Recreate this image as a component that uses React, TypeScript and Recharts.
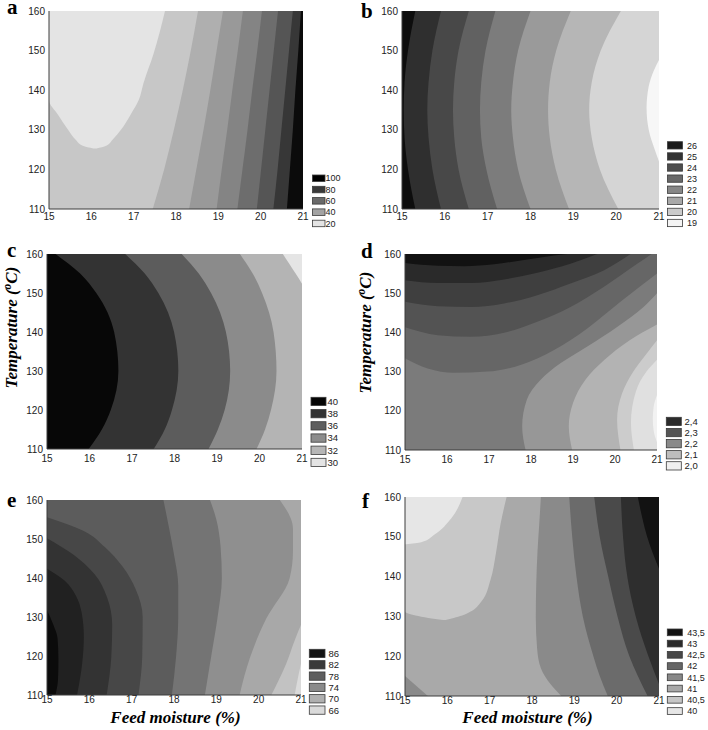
import React from 'react';
import { ComposedChart, Area, XAxis, YAxis } from 'recharts';

// ---------- axes ----------
const xTicks = [15, 16, 17, 18, 19, 20, 21];
const yTicks = [110, 120, 130, 140, 150, 160];
const xMinorTicks = [15.75, 16.5, 17.25, 18, 18.75, 19.5, 20.25];
const yMinorTicks = [116.25, 122.5, 128.75, 135, 141.25, 147.5, 153.75];
const axisData = [{ x: 15 }, { x: 21 }];

// ---------- panel a : contour boundaries [temperature, moisture] ----------
const aB1 = [[110, 17.45], [120, 17.72], [130, 17.95], [140, 18.16], [150, 18.35], [160, 18.52]];
const aB2 = [[110, 18.31], [120, 18.48], [130, 18.65], [140, 18.81], [150, 18.96], [160, 19.11]];
const aB3 = [[110, 18.96], [120, 19.08], [130, 19.21], [140, 19.33], [150, 19.46], [160, 19.58]];
const aB4 = [[110, 19.45], [120, 19.57], [130, 19.69], [140, 19.8], [150, 19.92], [160, 20.03]];
const aB5 = [[110, 19.91], [120, 20.01], [130, 20.11], [140, 20.21], [150, 20.31], [160, 20.41]];
const aB6 = [[110, 20.3], [120, 20.4], [130, 20.49], [140, 20.58], [150, 20.67], [160, 20.76]];
const aB7 = [[110, 20.62], [120, 20.69], [130, 20.76], [140, 20.82], [150, 20.89], [160, 20.95]];
const aU = [[125.3, 16.05, 16.12], [126, 15.8, 16.35], [127.5, 15.63, 16.5], [130, 15.45, 16.7], [133.7, 15.22, 16.92], [137.5, 15.0, 17.12], [141.7, 15, 17.23], [149.2, 15, 17.47], [160, 15, 17.74]];
const aColors = ['#0b0b0b', '#373737', '#555555', '#6d6d6d', '#848484', '#999999', '#afafaf', '#c7c7c7', '#e4e4e4'];

// ---------- panel b ----------
const bB1 = [[110, 15.31], [120, 15.14], [128, 15.06], [135, 15.04], [142, 15.06], [150, 15.14], [160, 15.31]];
const bB2 = [[110, 15.91], [120, 15.71], [128, 15.62], [135, 15.59], [142, 15.62], [150, 15.71], [160, 15.91]];
const bB3 = [[110, 16.56], [120, 16.32], [128, 16.22], [135, 16.19], [142, 16.22], [150, 16.32], [160, 16.56]];
const bB4 = [[110, 17.22], [120, 16.97], [128, 16.85], [135, 16.82], [142, 16.85], [150, 16.95], [160, 17.18]];
const bB5 = [[110, 18.0], [120, 17.71], [128, 17.59], [135, 17.55], [142, 17.59], [150, 17.71], [160, 18.0]];
const bB6 = [[110, 18.9], [120, 18.59], [128, 18.45], [135, 18.41], [142, 18.45], [150, 18.6], [160, 18.94]];
const bB7 = [[110, 20.05], [120, 19.62], [128, 19.43], [135, 19.37], [142, 19.43], [150, 19.64], [160, 20.11]];
const bW = [[122, 21.0], [125, 20.9], [130, 20.76], [135.5, 20.71], [141, 20.76], [145, 20.88], [147.6, 21.0]];
const bColors = ['#d5d5d5', '#b6b6b6', '#9a9a9a', '#7c7c7c', '#616161', '#484848', '#2f2f2f', '#0d0d0d', '#f7f7f7'];

// ---------- panel c ----------
const cB1 = [[110, 15.98], [115, 16.29], [120, 16.5], [130, 16.68], [140, 16.58], [150, 16.16], [155, 15.78], [160, 15.2]];
const cB2 = [[110, 17.51], [115, 17.77], [120, 17.94], [130, 18.09], [140, 17.99], [150, 17.62], [155, 17.3], [160, 16.84]];
const cB3 = [[110, 18.8], [115, 19.02], [120, 19.18], [130, 19.31], [140, 19.21], [150, 18.86], [155, 18.57], [160, 18.17]];
const cB4 = [[110, 19.93], [115, 20.13], [120, 20.27], [130, 20.4], [140, 20.33], [150, 20.06], [155, 19.84], [160, 19.54]];
const cB5 = [[152.4, 21.0], [155, 20.85], [157.5, 20.7], [160, 20.55]];
const cColors = ['#b4b4b4', '#8b8b8b', '#5c5c5c', '#333333', '#070707', '#e5e5e5'];

// ---------- panel d ----------
const dB1 = [[15, 157.7], [15.78, 157.0], [16.41, 156.9], [17.12, 157.4], [17.91, 158.6], [18.55, 159.6], [18.86, 160]];
const dB2 = [[15, 153.3], [15.78, 152.6], [16.57, 152.6], [17.36, 153.5], [18.15, 155.2], [18.94, 157.5], [19.58, 160]];
const dB3 = [[15, 147.8], [15.78, 146.7], [16.57, 146.5], [17.36, 147.4], [18.15, 149.5], [18.94, 152.5], [19.73, 155.8], [20.37, 160]];
const dB4 = [[15, 141.3], [15.78, 139.3], [16.57, 138.9], [17.36, 139.9], [18.15, 142.7], [18.94, 146.5], [19.73, 151.6], [20.53, 157.5], [20.87, 160]];
const dB5 = [[15, 133.4], [15.54, 130.8], [16.17, 129.7], [16.96, 130.0], [17.75, 131.7], [18.55, 135.5], [19.34, 141.0], [20.13, 147.8], [21, 155]];
const dB6 = [[110, 17.87], [116, 17.79], [122.8, 17.9], [127.9, 18.23], [132.1, 18.7], [136.4, 19.34], [141.4, 20.05], [146.5, 20.68], [150, 21.0]];
const dB7 = [[110, 18.98], [116, 18.9], [122, 19.0], [128, 19.3], [133, 19.75], [138, 20.35], [142, 21.0]];
const dB8 = [[110, 20.13], [117.7, 20.05], [124.5, 20.17], [129.6, 20.41], [134.7, 20.76], [138, 21.0]];
const dB9 = [[110, 20.45], [117, 20.38], [125, 20.5], [130, 20.75], [133, 21.0]];
const dW = [[112, 21.0], [115, 20.92], [118, 20.9], [121, 20.92], [124, 21.0]];
const dColorsLow = ['#7b7b7b', '#979797', '#b3b3b3', '#cccccc', '#e0e0e0', '#f2f2f2'];
const dColorsHigh = ['#666666', '#535353', '#3f3f3f', '#2a2a2a', '#121212'];

// ---------- panel e ----------
const eE1 = [[110, 15.2], [114, 15.26], [119, 15.27], [124.5, 15.25], [128, 15.15], [131.8, 15.0]];
const eE2 = [[110, 15.71], [118, 15.83], [125, 15.87], [131, 15.82], [135.5, 15.68], [139.3, 15.42], [142.4, 15.0]];
const eE3 = [[110, 16.41], [120, 16.52], [128, 16.54], [135, 16.42], [141, 16.12], [146, 15.62], [150.2, 15.0]];
const eE4 = [[110, 17.16], [120, 17.25], [130, 17.26], [137, 17.1], [143, 16.78], [148, 16.36], [152, 15.88], [155.6, 15.0]];
const eE5 = [[110, 17.95], [120, 18.05], [130, 18.1], [138, 18.1], [146, 18.0], [153, 17.88], [160, 17.75]];
const eE6 = [[110, 18.73], [120, 18.88], [130, 19.03], [140, 19.13], [148, 19.1], [155, 19.0], [160, 18.85]];
const eE7 = [[110, 19.55], [119.4, 19.79], [129.6, 20.18], [139.9, 20.73], [146.7, 20.81], [152.7, 20.81], [160, 20.5]];
const eE8 = [[110, 20.3], [118, 20.65], [124, 20.85], [128, 21.0]];
const eE9 = [[110, 20.85], [114, 20.92], [118, 21.0]];
const eColors = ['#a8a8a8', '#8f8f8f', '#747474', '#5c5c5c', '#474747', '#333333', '#212121', '#0b0b0b', '#c2c2c2', '#dadada'];

// ---------- panel f ----------
const fF3 = [[110, 18.69], [112.8, 18.45], [117, 18.21], [122, 18.12], [129.6, 18.09], [138, 18.1], [146.3, 18.13], [153, 18.17], [160, 18.21]];
const fF4 = [[110, 19.79], [115, 19.6], [120, 19.45], [130, 19.2], [140, 19.05], [150, 18.95], [160, 18.88]];
const fF5 = [[110, 20.73], [115, 20.5], [120, 20.3], [130, 20.02], [140, 19.8], [150, 19.6], [160, 19.47]];
const fF6 = [[113, 21.0], [120, 20.75], [130, 20.45], [140, 20.25], [150, 20.15], [160, 20.1]];
const fF7 = [[142, 21.0], [146, 20.85], [150, 20.72], [155, 20.6], [160, 20.5]];
const fTri = [[110, 15, 15.54], [115, 15, 15.0]];
const fR2 = [[129.1, 15.9, 15.96], [129.6, 15.55, 16.15], [130.2, 15.25, 16.35], [131.2, 15.0, 16.55], [133.7, 15, 16.8], [139.2, 15, 17.02], [146, 15, 17.15], [153.4, 15, 17.26], [160, 15, 17.4]];
const fR1 = [[148.1, 15, 15.02], [148.6, 15, 15.38], [150.5, 15, 15.69], [154.6, 15, 16.09], [160, 15, 16.36]];
const fColors = ['#4a4a4a', '#2e2e2e', '#121212', '#6b6b6b', '#8a8a8a', '#a9a9a9', '#8a8a8a', '#c8c8c8', '#e6e6e6'];

// ---------- legends ----------
const aLegLabels = ['100', '80', '60', '40', '20'];
const aLegColors = ['#000000', '#3a3a3a', '#6a6a6a', '#a3a3a3', '#e4e4e4'];
const bLegLabels = ['26', '25', '24', '23', '22', '21', '20', '19'];
const bLegColors = ['#1a1a1a', '#333333', '#4d4d4d', '#686868', '#878787', '#a8a8a8', '#cbcbcb', '#f4f4f4'];
const cLegLabels = ['40', '38', '36', '34', '32', '30'];
const cLegColors = ['#050505', '#333333', '#5e5e5e', '#8c8c8c', '#b6b6b6', '#e4e4e4'];
const dLegLabels = ['2,4', '2,3', '2,2', '2,1', '2,0'];
const dLegColors = ['#2b2b2b', '#555555', '#898989', '#bdbdbd', '#f0f0f0'];
const eLegLabels = ['86', '82', '78', '74', '70', '66'];
const eLegColors = ['#141414', '#3a3a3a', '#5e5e5e', '#8a8a8a', '#b0b0b0', '#dadada'];
const fLegLabels = ['43,5', '43', '42,5', '42', '41,5', '41', '40,5', '40'];
const fLegColors = ['#111111', '#2b2b2b', '#484848', '#666666', '#888888', '#a8a8a8', '#c6c6c6', '#e6e6e6'];

// ---------- helpers building range-area tables ----------
type Pt = { c: number; v: number[] };
type Layer = { data: Pt[]; fill: string; type?: string };
const all = (): Pt[] => [{ c: 110, v: [15, 21] }, { c: 160, v: [15, 21] }];
const leftOf = (b: number[][]): Pt[] => b.map(([c, x]) => ({ c, v: [15, x] }));
const rightOf = (b: number[][]): Pt[] => b.map(([c, x]) => ({ c, v: [x, 21] }));
const above = (b: number[][]): Pt[] => b.map(([c, y]) => ({ c, v: [y, 160] }));
const band = (b: number[][]): Pt[] => b.map(([c, lo, hi]) => ({ c, v: [lo, hi] }));

type Geo = { l: number; t: number; w: number; h: number; tm: number };
const MT = 6, MR = 6, YW = 40, XH = 22;
const SANS = 'Liberation Sans, Arial, sans-serif';
const SERIF = 'Liberation Serif, Times New Roman, serif';

function LayerChart({ g, layout, layers }: { g: Geo; layout: 'horizontal' | 'vertical'; layers: Layer[] }) {
  const W = g.w + YW + MR, H = g.h + MT + XH;
  const v = layout === 'vertical';
  return (
    <div style={{ position: 'absolute', left: g.l - YW, top: g.t - MT, width: W, height: H }}>
      <ComposedChart width={W} height={H} layout={layout} margin={{ top: MT, right: MR, left: YW, bottom: XH }}>
        {v ? (
          <XAxis type="number" domain={[15, 21]} allowDataOverflow hide />
        ) : (
          <XAxis type="number" dataKey="c" domain={[15, 21]} allowDataOverflow hide />
        )}
        {v ? (
          <YAxis type="number" dataKey="c" domain={[110, 160]} allowDataOverflow hide reversed />
        ) : (
          <YAxis type="number" domain={[110, 160]} allowDataOverflow hide />
        )}
        {layers.map((L, i) => (
          <Area
            key={i}
            data={L.data}
            dataKey="v"
            type={(L.type as any) ?? 'monotone'}
            fill={L.fill}
            fillOpacity={1}
            stroke="none"
            dot={false}
            activeDot={false}
            isAnimationActive={false}
          />
        ))}
      </ComposedChart>
    </div>
  );
}

function AxesChart({ g }: { g: Geo }) {
  const W = g.w + YW + MR, H = g.h + MT + XH;
  const tickStyle = { fill: '#222', fontSize: 10, fontFamily: SANS };
  const line = { stroke: '#3c3c3c', strokeWidth: 1 };
  return (
    <div style={{ position: 'absolute', left: g.l - YW, top: g.t - MT, width: W, height: H }}>
      <ComposedChart width={W} height={H} data={axisData} margin={{ top: MT, right: MR, left: 0, bottom: 0 }}>
        <XAxis xAxisId="b" type="number" dataKey="x" domain={[15, 21]} allowDataOverflow ticks={xTicks} interval={0}
          height={XH} tickSize={0} tickMargin={g.tm} tickLine={false} axisLine={line} tick={tickStyle} />
        <XAxis xAxisId="t" orientation="top" type="number" dataKey="x" domain={[15, 21]} allowDataOverflow ticks={xMinorTicks}
          interval={0} height={0} mirror tickSize={3} tickFormatter={() => ''} tickLine={line} axisLine={line} />
        <YAxis yAxisId="l" type="number" domain={[110, 160]} allowDataOverflow ticks={yTicks} interval={0}
          width={YW} tickSize={0} tickMargin={4} tickLine={false} axisLine={line} tick={tickStyle} />
        <YAxis yAxisId="r" orientation="right" type="number" domain={[110, 160]} allowDataOverflow ticks={yMinorTicks}
          interval={0} width={0} mirror tickSize={3} tickFormatter={() => ''} tickLine={line} axisLine={line} />
      </ComposedChart>
    </div>
  );
}

function Legend({ x, y0, pitch, w, h, labelX, fs, labels, colors }: any) {
  return (
    <g>
      {labels.map((lab: string, i: number) => {
        const y = y0 + i * pitch;
        return (
          <g key={i}>
            <rect x={x} y={y} width={w} height={h} fill={colors[i]} stroke="#3a3a3a" strokeWidth={0.8} />
            <text x={labelX} y={y + h / 2 + fs * 0.36} fontSize={fs} fontFamily={SANS} fill="#222">{lab}</text>
          </g>
        );
      })}
    </g>
  );
}

const geoA: Geo = { l: 49, t: 11, w: 254, h: 198, tm: 4 };
const geoB: Geo = { l: 402, t: 11, w: 257, h: 198, tm: 4 };
const geoC: Geo = { l: 47, t: 254, w: 255, h: 195, tm: 6 };
const geoD: Geo = { l: 405, t: 254, w: 252, h: 196, tm: 6 };
const geoE: Geo = { l: 47, t: 500, w: 254, h: 195, tm: 1 };
const geoF: Geo = { l: 405, t: 497, w: 254, h: 199, tm: 1 };

export default function App() {
  const aLayers: Layer[] = [
    { data: all(), fill: aColors[0] },
    { data: leftOf(aB7), fill: aColors[1] },
    { data: leftOf(aB6), fill: aColors[2] },
    { data: leftOf(aB5), fill: aColors[3] },
    { data: leftOf(aB4), fill: aColors[4] },
    { data: leftOf(aB3), fill: aColors[5] },
    { data: leftOf(aB2), fill: aColors[6] },
    { data: leftOf(aB1), fill: aColors[7] },
    { data: band(aU), fill: aColors[8] },
  ];
  const bLayers: Layer[] = [
    { data: all(), fill: bColors[0] },
    { data: leftOf(bB7), fill: bColors[1] },
    { data: leftOf(bB6), fill: bColors[2] },
    { data: leftOf(bB5), fill: bColors[3] },
    { data: leftOf(bB4), fill: bColors[4] },
    { data: leftOf(bB3), fill: bColors[5] },
    { data: leftOf(bB2), fill: bColors[6] },
    { data: leftOf(bB1), fill: bColors[7] },
    { data: rightOf(bW), fill: bColors[8] },
  ];
  const cLayers: Layer[] = [
    { data: all(), fill: cColors[0] },
    { data: leftOf(cB4), fill: cColors[1] },
    { data: leftOf(cB3), fill: cColors[2] },
    { data: leftOf(cB2), fill: cColors[3] },
    { data: leftOf(cB1), fill: cColors[4] },
    { data: rightOf(cB5), fill: cColors[5] },
  ];
  const dLow: Layer[] = [
    { data: all(), fill: dColorsLow[0] },
    { data: rightOf(dB6), fill: dColorsLow[1] },
    { data: rightOf(dB7), fill: dColorsLow[2] },
    { data: rightOf(dB8), fill: dColorsLow[3] },
    { data: rightOf(dB9), fill: dColorsLow[4] },
    { data: rightOf(dW), fill: dColorsLow[5] },
  ];
  const dHigh: Layer[] = [
    { data: above(dB5), fill: dColorsHigh[0] },
    { data: above(dB4), fill: dColorsHigh[1] },
    { data: above(dB3), fill: dColorsHigh[2] },
    { data: above(dB2), fill: dColorsHigh[3] },
    { data: above(dB1), fill: dColorsHigh[4] },
  ];
  const eLayers: Layer[] = [
    { data: all(), fill: eColors[0] },
    { data: leftOf(eE7), fill: eColors[1] },
    { data: leftOf(eE6), fill: eColors[2] },
    { data: leftOf(eE5), fill: eColors[3] },
    { data: leftOf(eE4), fill: eColors[4] },
    { data: leftOf(eE3), fill: eColors[5] },
    { data: leftOf(eE2), fill: eColors[6] },
    { data: leftOf(eE1), fill: eColors[7] },
    { data: rightOf(eE8), fill: eColors[8] },
    { data: rightOf(eE9), fill: eColors[9] },
  ];
  const fLayers: Layer[] = [
    { data: all(), fill: fColors[0] },
    { data: rightOf(fF6), fill: fColors[1] },
    { data: rightOf(fF7), fill: fColors[2] },
    { data: leftOf(fF5), fill: fColors[3] },
    { data: leftOf(fF4), fill: fColors[4] },
    { data: leftOf(fF3), fill: fColors[5] },
    { data: band(fTri), fill: fColors[6], type: 'linear' },
    { data: band(fR2), fill: fColors[7] },
    { data: band(fR1), fill: fColors[8] },
  ];

  const letter = { fontFamily: SERIF, fontWeight: 'bold' as const, fontSize: 21, fill: '#000' };
  const title = { fontFamily: SERIF, fontWeight: 'bold' as const, fontStyle: 'italic' as const, fontSize: 17, fill: '#000' };

  return (
    <div style={{ position: 'absolute', left: 0, top: 0, width: 708, height: 730, background: '#fff', overflow: 'hidden' }}>
      <LayerChart g={geoA} layout="vertical" layers={aLayers} />
      <AxesChart g={geoA} />
      <LayerChart g={geoB} layout="vertical" layers={bLayers} />
      <AxesChart g={geoB} />
      <LayerChart g={geoC} layout="vertical" layers={cLayers} />
      <AxesChart g={geoC} />
      <LayerChart g={geoD} layout="vertical" layers={dLow} />
      <LayerChart g={geoD} layout="horizontal" layers={dHigh} />
      <AxesChart g={geoD} />
      <LayerChart g={geoE} layout="vertical" layers={eLayers} />
      <AxesChart g={geoE} />
      <LayerChart g={geoF} layout="vertical" layers={fLayers} />
      <AxesChart g={geoF} />
      <svg width={708} height={730} style={{ position: 'absolute', left: 0, top: 0, pointerEvents: 'none' }}>
        <text x={7} y={14} {...letter}>a</text>
        <text x={361} y={18} {...letter}>b</text>
        <text x={7} y={257} {...letter}>c</text>
        <text x={361} y={258} {...letter}>d</text>
        <text x={7} y={507} {...letter}>e</text>
        <text x={362} y={508} {...letter}>f</text>
        <text transform="translate(16.5,327.5) rotate(-90)" textAnchor="middle" {...title}>
          Temperature (<tspan fontSize={11.5} dy={-6}>o</tspan><tspan dy={6}>C)</tspan>
        </text>
        <text transform="translate(370.5,332.5) rotate(-90)" textAnchor="middle" {...title}>
          Temperature (<tspan fontSize={11.5} dy={-6}>o</tspan><tspan dy={6}>C)</tspan>
        </text>
        <text x={175.5} y={722.5} textAnchor="middle" {...title}>Feed moisture (%)</text>
        <text x={527.5} y={722.5} textAnchor="middle" {...title}>Feed moisture (%)</text>
        <Legend x={312.5} y0={175} pitch={11.3} w={12.5} h={6.5} labelX={325.5} fs={9} labels={aLegLabels} colors={aLegColors} />
        <Legend x={667.5} y0={141.7} pitch={11.09} w={15} h={7.3} labelX={687} fs={9} labels={bLegLabels} colors={bLegColors} />
        <Legend x={311} y0={397.3} pitch={12.2} w={15} h={8.3} labelX={327.5} fs={9.5} labels={cLegLabels} colors={cLegColors} />
        <Legend x={666.3} y0={417.3} pitch={11.1} w={15} h={8.3} labelX={684.5} fs={9.5} labels={dLegLabels} colors={dLegColors} />
        <Legend x={309.3} y0={649.3} pitch={11.33} w={15.7} h={8.3} labelX={328.5} fs={9.5} labels={eLegLabels} colors={eLegColors} />
        <Legend x={667.3} y0={629} pitch={11.24} w={15} h={6.7} labelX={687.3} fs={9} labels={fLegLabels} colors={fLegColors} />
      </svg>
    </div>
  );
}
